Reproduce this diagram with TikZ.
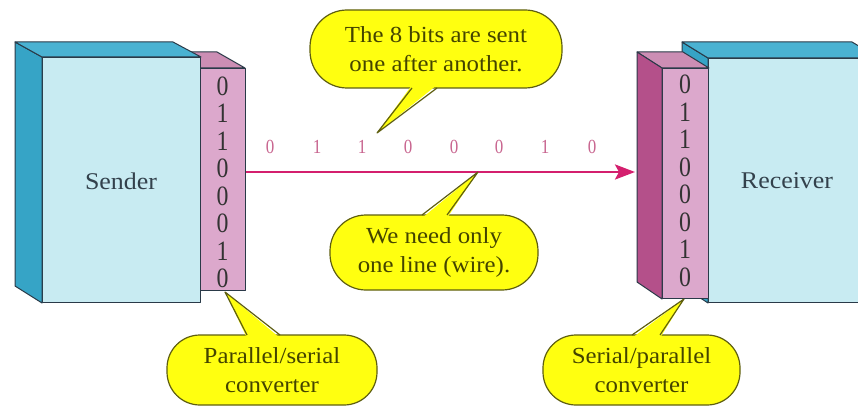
\documentclass[tikz,border=0pt]{standalone}
\usepackage{fontspec}
\setmainfont{Liberation Serif}[FakeStretch=1.08]
\newfontfamily\narrowdigits{Liberation Serif}[FakeStretch=0.85]
\usetikzlibrary{arrows.meta,calc}
\definecolor{cyanfront}{HTML}{C8EBF2}
\definecolor{tealside}{HTML}{36A4C6}
\definecolor{tealtop}{HTML}{4AB2D2}
\definecolor{pinkfront}{HTML}{DCA8CC}
\definecolor{pinktop}{HTML}{CC8EB4}
\definecolor{pinkside}{HTML}{B4508A}
\definecolor{edgecol}{HTML}{2A3A48}
\definecolor{wirecol}{HTML}{D41F6E}
\definecolor{bitcol}{HTML}{C8658F}
\definecolor{callfill}{HTML}{FFFF10}
\definecolor{calledge}{HTML}{5E5E10}
\definecolor{calltext}{HTML}{444400}
\definecolor{labelcol}{HTML}{33414C}
\begin{document}
\begin{tikzpicture}[x=1pt,y=-1pt,
  face/.style={draw=edgecol,line width=1pt,line join=round},
  frontbox/.style={face,anchor=north west,inner sep=0pt},
  boxlabel/.style={text=labelcol,font=\fontsize{24}{28}\selectfont},
  convbits/.style={text=black!80,align=center,inner sep=0pt,font=\narrowdigits\fontsize{28}{27.5}\selectfont},
  linebit/.style={text=bitcol,inner sep=0pt,font=\narrowdigits\fontsize{20}{22}\selectfont},
  wire/.style={draw=wirecol,line width=2.6pt,-{Stealth[length=20pt,width=15pt,inset=4pt]}},
  callbox/.style={draw=calledge,fill=callfill,line width=1.2pt,align=center,text=calltext,
     font=\fontsize{23}{29}\selectfont,inner sep=0pt},
  tailfill/.style={fill=callfill},
  tailedge/.style={draw=calledge,line width=1.2pt,line join=round}
]
\useasboundingbox (0,0) rectangle (858,409);
\clip (0,0) rectangle (858,409);

% ---------- Sender ----------
\filldraw[face,fill=pinktop] (172,52) -- (217,52) -- (245,68) -- (200,68) -- cycle;
\node[frontbox,fill=cyanfront,minimum width=158pt,minimum height=245pt] (sender) at (42,57) {};
\filldraw[face,fill=tealside] (sender.north west) -- ++(-27,-15) -- ++(0,244) -- (sender.south west) -- cycle;
\filldraw[face,fill=tealtop] (sender.north west) -- ++(-27,-15) -- ++(158,0) -- (sender.north east) -- cycle;
\node[boxlabel] (slabel) at (121,181) {Sender};
\node[frontbox,fill=pinkfront,minimum width=45pt,minimum height=222pt] (pconv) at (200,68) {};
\node[convbits] (pbits) at (222.5,182.5) {0\\1\\1\\0\\0\\0\\1\\0};

% ---------- Receiver ----------
\node[frontbox,fill=cyanfront,minimum width=170pt,minimum height=244pt] (receiver) at (708,58) {};
\filldraw[face,fill=tealside] (receiver.north west) -- ++(-26,-16) -- ++(0,244) -- (receiver.south west) -- cycle;
\filldraw[face,fill=tealtop] (receiver.north west) -- ++(-26,-16) -- ++(170,0) -- (receiver.north east) -- cycle;
\node[boxlabel] (rlabel) at (787,181) {Receiver};
\node[frontbox,fill=pinkfront,minimum width=46pt,minimum height=230pt] (rconv) at (662,68) {};
\filldraw[face,fill=pinktop] (rconv.north west) -- ++(-25,-16) -- ++(46,0) -- (rconv.north east) -- cycle;
\filldraw[face,fill=pinkside] (rconv.north west) -- ++(-25,-16) -- ++(0,230) -- (rconv.south west) -- cycle;
\node[convbits] (rbits) at (685,181) {0\\1\\1\\0\\0\\0\\1\\0};

% ---------- Wire ----------
\coordinate (rtip) at (635,172);
\draw[wire] (pconv.east |- rtip) -- (rtip);
\foreach \x/\b [count=\i] in {270/0,317/1,362/1,408/0,454/0,499/0,545/1,592/0}
  \node[linebit] (bit\i) at (\x,147) {\b};

% ---------- Callouts ----------
\node[callbox,minimum width=252pt,minimum height=78pt,rounded corners=37pt] (c1) at (436,49)
  {The 8 bits are sent\\one after another.};
\coordinate (t1) at (377,133);
\fill[tailfill] (412,85) -- (t1) -- (437,85) -- cycle;
\draw[tailedge] (412,88) -- (t1) -- (437,88);

\node[callbox,minimum width=208pt,minimum height=75pt,rounded corners=36pt] (c2) at (434,252.5)
  {We need only\\one line (wire).};
\coordinate (t2) at (478,172);
\fill[tailfill] (422,218) -- (t2) -- (447,218) -- cycle;
\draw[tailedge] (422,215) -- (t2) -- (447,215);

\node[callbox,minimum width=210pt,minimum height=70pt,rounded corners=33pt] (c3) at (272,370)
  {Parallel/serial\\converter};
\coordinate (t3) at (225,292);
\fill[tailfill] (247,338) -- (t3) -- (280,338) -- cycle;
\draw[tailedge] (247,335) -- (t3) -- (280,335);

\node[callbox,minimum width=197pt,minimum height=70pt,rounded corners=33pt] (c4) at (641.5,370)
  {Serial/parallel\\converter};
\coordinate (t4) at (684,299);
\fill[tailfill] (632,338) -- (t4) -- (660,338) -- cycle;
\draw[tailedge] (632,335) -- (t4) -- (660,335);
\end{tikzpicture}
\end{document}
